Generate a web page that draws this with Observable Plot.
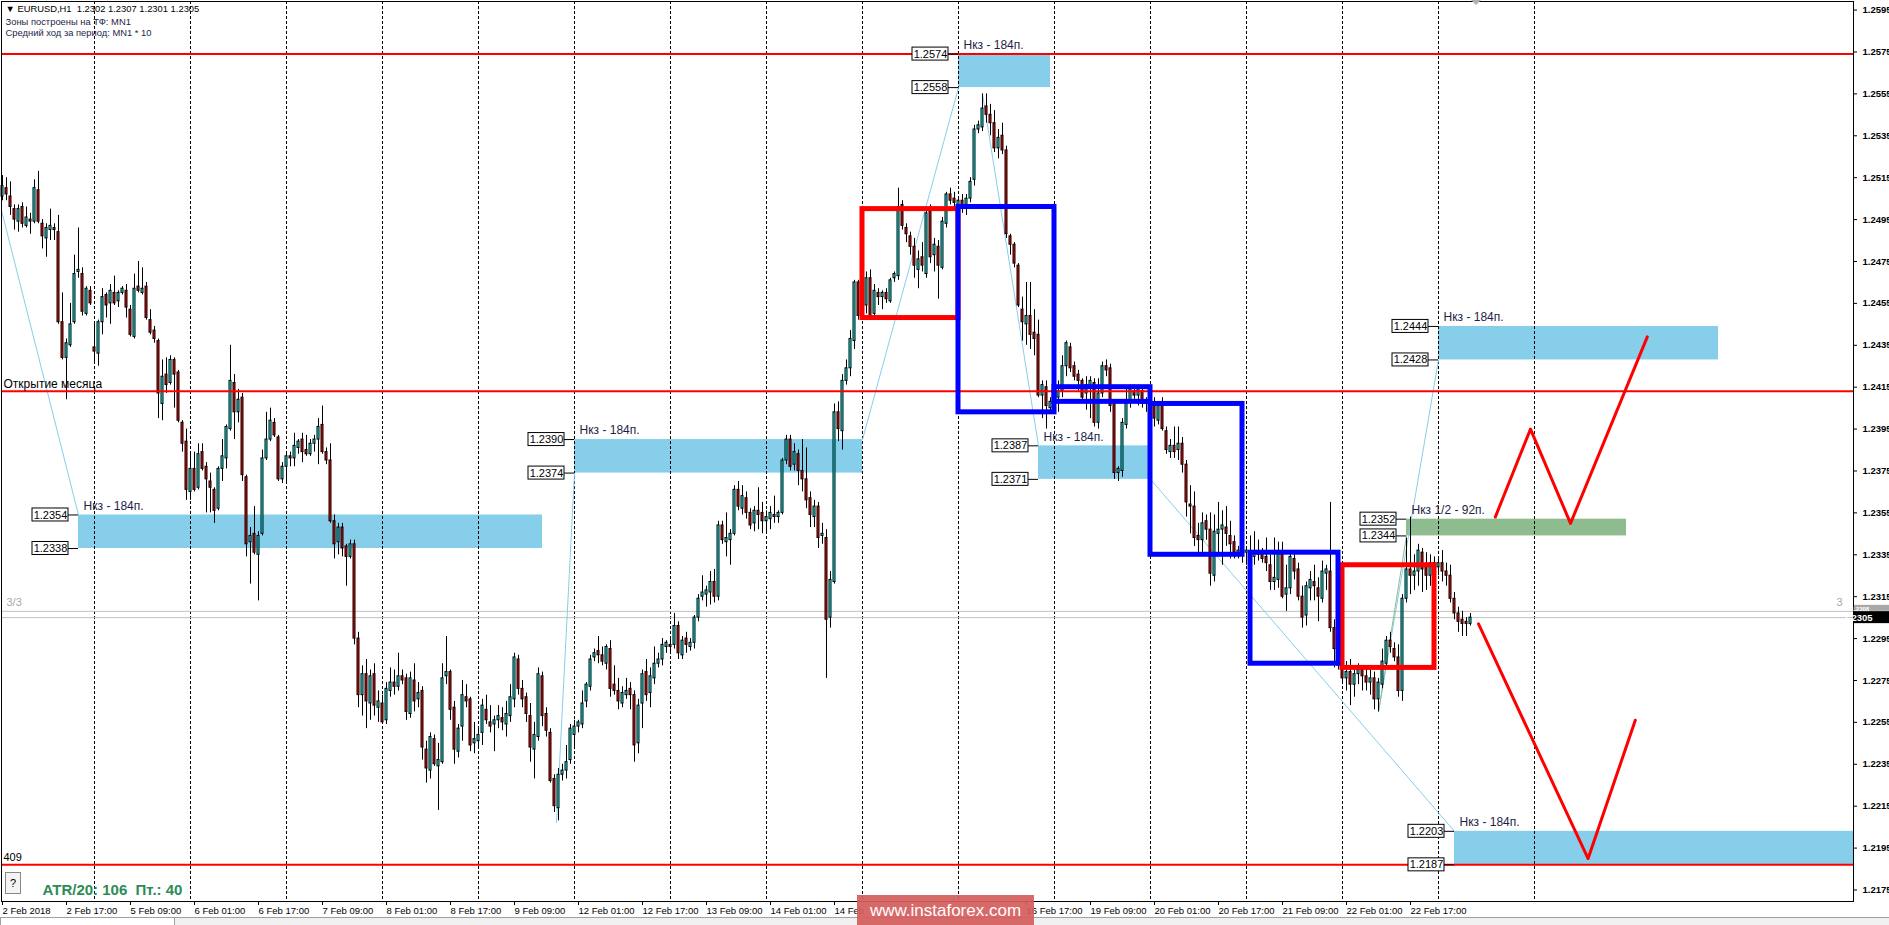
<!DOCTYPE html>
<html>
<head>
<meta charset="utf-8">
<script src="https://cdn.jsdelivr.net/npm/d3@7"></script>
<script src="https://cdn.jsdelivr.net/npm/@observablehq/plot@0.6"></script>
<style>
html, body { margin: 0; padding: 0; background: #fff; overflow: hidden; }
#chart svg { display: block; }
</style>
</head>
<body>
<div id="chart"></div>
<script>
// ---------- EURUSD H1 candles, values in points above 1.2000 (bar 0 = 2 Feb 01:00) ----------
const openPts = [
506,510,506,500,494,501,492,495,494,509,
493,486,490,491,489,446,429,435,446,470,
469,450,461,434,431,446,459,455,460,456,
460,461,452,439,463,460,463,447,442,437,
407,421,417,428,422,398,389,365,376,367,
384,377,370,366,357,376,381,395,417,403,
410,372,341,345,335,345,381,390,398,391,
371,377,382,381,386,390,385,383,388,390,
397,384,380,351,341,348,339,334,340,295,
268,278,264,278,262,264,256,270,274,272,
277,276,259,275,266,270,242,232,247,234,
236,277,279,262,241,253,267,266,245,246,
250,261,255,254,256,257,254,258,266,285,
271,267,258,242,248,277,259,250,228,214,
230,232,237,249,253,254,265,272,286,289,
287,283,290,273,270,264,268,271,268,245,
264,279,269,276,283,285,291,292,292,301,
287,295,291,293,305,315,316,317,322,315,
349,341,342,345,366,357,362,355,350,356,
355,351,352,354,353,355,380,390,378,383,
375,371,362,353,358,344,343,305,322,403,
394,418,424,437,465,449,454,467,450,460,
458,460,456,467,468,502,491,487,482,471,
477,469,499,478,482,472,493,507,505,502,
504,502,505,514,538,539,549,545,541,529,
535,528,487,483,473,452,445,449,441,440,
411,415,405,407,410,413,425,434,425,421,
418,412,415,417,398,412,425,424,407,374,
375,397,408,413,411,413,407,408,406,399,
406,394,384,387,385,388,378,359,358,344,
342,351,347,325,345,347,348,344,341,336,
336,336,336,334,336,336,334,330,322,323,
335,316,319,333,328,315,306,319,322,319,
314,326,327,300,290,281,276,279,273,278,
280,277,274,276,266,273,283,294,290,286,
270,314,328,325,327,336,329,325,331,329,
331,327,325,314,307,304,303,302];
const highPts = [
516,515,513,502,502,503,501,498,514,518,
495,493,500,493,497,460,438,455,478,491,
472,463,463,446,447,462,460,464,468,461,
463,464,454,469,475,472,465,452,444,438,
428,429,430,429,423,399,395,384,384,388,
388,379,374,367,377,390,397,435,421,414,
412,373,348,358,346,385,403,405,400,392,
379,383,384,393,390,393,392,390,392,400,
406,386,388,354,350,350,340,342,342,298,
282,285,280,283,270,268,274,281,280,288,
280,278,279,283,274,272,246,250,249,245,
283,296,280,265,254,275,273,267,255,253,
266,268,263,258,263,262,265,273,288,287,
275,269,264,255,281,279,262,252,230,233,
235,244,254,256,256,270,274,287,290,296,
291,292,294,282,276,272,276,274,270,266,
280,285,281,291,288,295,294,295,307,303,
296,298,295,306,316,325,320,327,328,351,
351,355,347,368,370,368,365,357,358,367,
360,356,358,363,356,381,392,392,388,385,
390,386,365,361,360,350,347,327,407,408,
421,428,442,466,466,460,470,471,464,462,
461,462,467,470,510,504,493,489,486,480,
484,500,502,486,485,496,508,510,508,505,
507,507,515,540,542,555,555,550,547,538,
541,530,488,484,474,458,465,465,452,447,
418,418,410,412,418,430,437,436,427,423,
419,420,420,419,419,427,428,426,408,377,
400,415,416,416,416,415,410,411,410,408,
410,396,390,396,396,391,380,368,365,350,
355,354,355,354,360,356,358,351,344,339,
340,338,344,346,342,338,343,335,343,341,
341,330,337,336,331,320,322,327,330,324,
332,330,360,304,292,283,284,285,280,283,
282,281,280,279,276,290,296,298,293,292,
316,343,353,335,340,338,336,335,334,333,
337,331,330,317,310,308,305,307];
const lowPts = [
504,504,497,490,489,491,491,488,493,493,
481,477,485,485,445,428,409,434,445,467,
449,449,454,427,425,440,448,445,454,453,
459,448,439,438,460,459,447,440,436,400,
399,412,416,405,398,384,361,361,365,366,
375,355,355,350,356,370,376,394,390,398,
370,334,321,335,313,344,380,389,391,370,
369,369,377,377,383,379,382,382,384,378,
383,378,350,333,335,334,320,333,292,262,
258,252,256,258,255,254,254,267,268,270,
273,256,257,260,262,237,226,228,234,213,
235,273,256,235,238,246,262,241,240,243,
244,254,250,241,252,251,248,255,262,268,
262,255,236,228,246,253,248,226,212,208,
227,228,235,242,250,252,262,270,284,283,
282,280,267,268,261,262,266,261,236,240,
252,265,262,273,281,282,288,288,290,285,
285,288,289,290,303,313,310,311,312,313,
340,334,330,344,356,354,352,347,346,347,
345,346,347,350,350,354,378,375,375,368,
365,357,348,348,338,340,276,300,321,389,
385,416,420,433,447,447,450,448,448,454,
452,455,455,465,466,490,484,478,467,462,
470,467,474,470,457,471,491,502,499,497,
498,497,503,511,536,537,541,535,527,524,
526,486,478,472,453,437,435,433,430,410,
400,395,403,404,403,410,420,422,418,413,
408,404,400,396,395,410,420,403,371,370,
372,395,405,408,406,405,403,400,396,397,
394,383,381,381,380,374,353,345,339,336,
336,342,320,322,335,330,339,333,333,333,
331,330,331,330,332,331,327,318,318,319,
314,308,316,323,313,300,301,313,313,303,
312,318,298,281,280,273,270,263,267,273,
270,270,268,261,260,271,281,288,284,267,
265,312,316,318,320,317,318,320,326,325,
322,320,312,304,298,296,296,301];
const closePts = [
511,507,501,495,500,493,496,494,510,494,
487,491,492,490,446,429,436,445,469,471,
451,462,455,432,446,458,454,461,455,460,
462,453,440,462,461,462,448,441,438,412,
420,416,428,421,399,388,366,376,366,383,
376,371,367,356,376,382,396,418,403,409,
373,340,344,336,344,381,390,399,392,371,
377,382,381,387,389,384,383,388,390,396,
384,380,351,340,348,338,334,340,295,268,
278,265,277,263,265,255,271,274,272,277,
275,260,276,265,269,243,233,248,235,237,
276,279,261,242,252,268,265,244,247,249,
263,256,253,256,258,255,259,267,286,271,
266,259,243,249,278,258,251,227,215,230,
232,236,252,253,255,264,273,285,288,287,
284,291,271,270,265,269,270,268,244,263,
278,268,277,283,285,292,293,291,301,288,
294,292,293,305,314,317,318,322,315,349,
342,343,345,366,358,363,355,349,356,354,
351,353,355,353,355,380,390,377,384,375,
371,361,354,358,343,345,304,323,403,395,
418,424,438,465,449,456,467,449,461,458,
460,457,466,469,501,492,488,482,473,476,
473,498,477,483,473,494,507,504,503,504,
502,505,513,538,540,548,545,541,529,534,
528,488,483,474,454,446,449,440,438,411,
416,406,408,410,413,425,436,424,420,418,
410,416,418,398,412,425,423,406,374,376,
398,407,414,411,414,407,408,406,400,406,
395,385,387,384,388,378,360,358,343,342,
350,347,326,346,347,349,345,340,336,337,
335,337,334,336,335,333,331,322,324,336,
315,319,334,327,315,305,320,323,320,315,
327,328,300,290,282,276,279,273,278,280,
277,274,276,266,274,284,294,291,286,270,
314,328,325,327,337,328,325,331,329,331,
327,325,314,307,303,302,302,305];

// ---------- axes ----------
const priceTicks = [1.2175,1.2195,1.2215,1.2235,1.2255,1.2275,1.2295,1.2315,1.2335,1.2355,1.2375,1.2395,1.2415,1.2435,1.2455,1.2475,1.2495,1.2515,1.2535,1.2555,1.2575,1.2595];
// labels under the watermark are only partly visible in the screenshot
const timeTickIndex = [0,16,32,48,64,80,96,112,128,144,160,176,192,208,256,272,288,304,320,336,352];
const timeTickText = ["2 Feb 2018","2 Feb 17:00","5 Feb 09:00","6 Feb 01:00","6 Feb 17:00","7 Feb 09:00","8 Feb 01:00","8 Feb 17:00","9 Feb 09:00","12 Feb 01:00","12 Feb 17:00","13 Feb 09:00","14 Feb 01:00","14 Feb","16 Feb 17:00","19 Feb 09:00","20 Feb 01:00","20 Feb 17:00","21 Feb 09:00","22 Feb 01:00","22 Feb 17:00"];
const daySeparators = [23,47,71,95,119,143,167,191,215,239,263,287,311,335,359,383];

// ---------- levels ----------
const redLevels = [1.2574, 1.2413, 1.2187];
const bidAskLevels = [1.2308, 1.2305];

// ---------- zones (bar index start/end, price top/bottom) ----------
const zoneStart  = [19, 143, 239, 259, 359, 363];
const zoneEnd    = [135, 215, 262, 287, 429, 462.75];
const zoneTop    = [1.2354, 1.2390, 1.2574, 1.2387, 1.2444, 1.2203];
const zoneBottom = [1.2338, 1.2374, 1.2558, 1.2371, 1.2428, 1.2187];
const zoneLabel  = ["Нкз - 184п.","Нкз - 184п.","Нкз - 184п.","Нкз - 184п.","Нкз - 184п.","Нкз - 184п."];
const halfZoneStart = [351], halfZoneEnd = [406], halfZoneTop = [1.2352], halfZoneBottom = [1.2344];
const halfZoneLabel = ["Нкз 1/2 - 92п."];

// ---------- boxes ----------
const boxStart  = [215, 239, 263, 287, 312, 335];
const boxEnd    = [239, 263, 287, 310, 334, 358];
const boxTop    = [1.2500, 1.2501, 1.2415, 1.2407, 1.2336, 1.2330];
const boxBottom = [1.2448, 1.2403, 1.2408, 1.2335, 1.2283, 1.2281];
const boxKind   = ["red","blue","blue","blue","blue","red"];

// ---------- thin guide lines ----------
const guideX1 = [-0.2, 138.5, 215, 245, 287, 344];
const guideY1 = [1.2499, 1.2207, 1.2390, 1.2555, 1.2371, 1.2260];
const guideX2 = [19, 143, 239, 259, 363, 359];
const guideY2 = [1.2354, 1.2374, 1.2558, 1.2387, 1.2203, 1.2428];
const greenGuide = [[344, 1.2260], [351, 1.2344]];

// ---------- projection (red zig-zag) ----------
const projUpIdx = [373.2, 382, 392, 411.2];
const projUpPrice = [1.2353, 1.2395, 1.2350, 1.2439];
const projDownIdx = [369, 396.4, 408.2];
const projDownPrice = [1.2302, 1.2190, 1.2256];

// ============ build ============
const FONT = "'Liberation Sans', Arial, Helvetica, sans-serif";
const toPrice = v => 1.2 + v / 10000;
const bars = closePts.map((c, i) => ({i, o: toPrice(openPts[i]), h: toPrice(highPts[i]), l: toPrice(lowPts[i]), c: toPrice(c)}));
const bullBars = bars.filter(d => d.c >= d.o);
const bearBars = bars.filter(d => d.c < d.o);

const zones = zoneStart.map((s, k) => ({s, e: zoneEnd[k], top: zoneTop[k], bot: zoneBottom[k], label: zoneLabel[k]}));
const halfZones = halfZoneStart.map((s, k) => ({s, e: halfZoneEnd[k], top: halfZoneTop[k], bot: halfZoneBottom[k], label: halfZoneLabel[k]}));
const allZones = zones.concat(halfZones);
const priceTags = allZones.flatMap(z => [{x: z.s, y: z.top}, {x: z.s, y: z.bot}]);
const boxes = boxStart.map((s, k) => ({s, e: boxEnd[k], top: boxTop[k], bot: boxBottom[k], kind: boxKind[k]}));
const guides = guideX1.map((x1, k) => ({x1, y1: guideY1[k], x2: guideX2[k], y2: guideY2[k]}));
const projUp = projUpIdx.map((x, k) => ({x, y: projUpPrice[k]}));
const projDown = projDownIdx.map((x, k) => ({x, y: projDownPrice[k]}));
const timeTicks = timeTickIndex.map((x, k) => ({x, t: timeTickText[k]}));

const X0 = -0.25, X1 = 462.75, Y0 = 1.21695, Y1 = 1.25991;
const NAVY = "#1e1e46";

const svg = Plot.plot({
  width: 1889, height: 925,
  marginTop: 1, marginLeft: 1, marginRight: 36, marginBottom: 24,
  x: {domain: [X0, X1], axis: null},
  y: {domain: [Y0, Y1], axis: null},
  style: {fontFamily: FONT, background: "#fff", overflow: "visible"},
  marks: [
    Plot.rect(zones, {x1: "s", x2: "e", y1: "bot", y2: "top", fill: "#87ceeb"}),
    Plot.rect(halfZones, {x1: "s", x2: "e", y1: "bot", y2: "top", fill: "#8fbc8f"}),
    Plot.ruleX(daySeparators, {x: d => d, stroke: "#000", strokeDasharray: "3,2", strokeWidth: 1}),
    Plot.ruleY(bidAskLevels, {y: d => d, stroke: "#c0c0c0", strokeWidth: 1}),
    Plot.link(guides, {x1: "x1", y1: "y1", x2: "x2", y2: "y2", stroke: "#87ceeb", strokeWidth: 1}),
    Plot.line(greenGuide, {x: d => d[0], y: d => d[1], stroke: "#8fbc8f", strokeWidth: 1}),
    Plot.ruleX(bars, {x: "i", y1: "l", y2: "h", stroke: "#000", strokeWidth: 1}),
    Plot.rect(bullBars, {x1: d => d.i - 0.25, x2: d => d.i + 0.25, y1: "o", y2: "c", fill: "#00ffff", stroke: "#000", strokeWidth: 1}),
    Plot.rect(bearBars, {x1: d => d.i - 0.25, x2: d => d.i + 0.25, y1: "o", y2: "c", fill: "#ff0000", stroke: "#000", strokeWidth: 1}),
    Plot.ruleY(redLevels, {y: d => d, stroke: "#ff0000", strokeWidth: 2}),
    Plot.text(["Открытие месяца"], {x: X0, y: redLevels[1], text: d => d, dx: 2, dy: -7, textAnchor: "start", lineAnchor: "middle", fontSize: 12, fill: "#000"}),
    Plot.rect(boxes.filter(b => b.kind === "red"), {x1: "s", x2: "e", y1: "bot", y2: "top", fill: "none", stroke: "#ff0000", strokeWidth: 5}),
    Plot.rect(boxes.filter(b => b.kind === "blue"), {x1: "s", x2: "e", y1: "bot", y2: "top", fill: "none", stroke: "#0000ff", strokeWidth: 5}),
    Plot.line(projUp, {x: "x", y: "y", stroke: "#ff0000", strokeWidth: 3}),
    Plot.line(projDown, {x: "x", y: "y", stroke: "#ff0000", strokeWidth: 3}),
    Plot.ruleY(priceTags, {y: "y", x1: "x", x2: "x", insetLeft: -10, insetRight: 0, stroke: "#000"}),
    Plot.rect(priceTags, {x1: "x", x2: "x", y1: "y", y2: "y", insetLeft: -46, insetRight: 10, insetTop: -6.5, insetBottom: -6.5, fill: "#fff", stroke: "#000", strokeWidth: 1}),
    Plot.text(priceTags, {x: "x", y: "y", text: d => d.y.toFixed(4), dx: -28, textAnchor: "middle", lineAnchor: "middle", fontSize: 11, fill: "#000"}),
    Plot.text(allZones, {x: "s", y: "top", text: "label", dx: 5, dy: -9, textAnchor: "start", lineAnchor: "middle", fontSize: 12, fill: NAVY}),
    Plot.frame({stroke: "#000"}),
    Plot.ruleY(priceTicks, {y: d => d, x1: X1, x2: X1, insetRight: -4, stroke: "#000"}),
    Plot.text(priceTicks, {x: X1, y: d => d, text: d => d.toFixed(4), dx: 9, textAnchor: "start", lineAnchor: "middle", fontSize: 9.5, fontWeight: "bold", fill: "#000"}),
    Plot.ruleX(timeTicks, {x: "x", y1: Y0, y2: Y0, insetBottom: -4, stroke: "#000"}),
    Plot.text(timeTicks, {x: "x", y: Y0, text: "t", dx: 0, dy: 9, textAnchor: "start", lineAnchor: "middle", fontSize: 9.5, fill: "#000"}),
    Plot.text(["▼ EURUSD,H1  1.2302 1.2307 1.2301 1.2305"], {frameAnchor: "top-left", text: d => d, dx: 4, dy: 7, textAnchor: "start", lineAnchor: "middle", fontSize: 9.4, fill: "#000"}),
    Plot.text(["Зоны построены на ТФ: MN1"], {frameAnchor: "top-left", text: d => d, dx: 4, dy: 20, textAnchor: "start", lineAnchor: "middle", fontSize: 9.4, fill: NAVY}),
    Plot.text(["Средний ход за период: MN1 * 10"], {frameAnchor: "top-left", text: d => d, dx: 4, dy: 31, textAnchor: "start", lineAnchor: "middle", fontSize: 9.4, fill: NAVY}),
    Plot.text(["3/3"], {frameAnchor: "top-left", text: d => d, dx: 5, dy: 601, textAnchor: "start", lineAnchor: "middle", fontSize: 11, fill: "#a8a8a8"}),
    Plot.text(["3"], {frameAnchor: "top-right", text: d => d, dx: -11, dy: 601, textAnchor: "end", lineAnchor: "middle", fontSize: 11, fill: "#a8a8a8"}),
    Plot.text(["409"], {frameAnchor: "top-left", text: d => d, dx: 2, dy: 856, textAnchor: "start", lineAnchor: "middle", fontSize: 11, fill: "#000"}),
    Plot.text(["ATR/20: 106  Пт.: 40"], {frameAnchor: "top-left", text: d => d, dx: 41, dy: 889, textAnchor: "start", lineAnchor: "middle", fontSize: 15, fontWeight: "bold", fill: "#2e8b57"})
  ]
});

const root = d3.select(svg);
const ys = v => 901 - (v - Y0) / (Y1 - Y0) * 900;
// ask tag (mostly hidden behind the bid tag)
root.append("rect").attr("x", 1854).attr("y", ys(1.2308) - 6).attr("width", 35).attr("height", 6).attr("fill", "#a8a8a8");
root.append("text").attr("x", 1860).attr("y", ys(1.2308) + 0.5).attr("font-size", 6).attr("font-weight", "bold").attr("fill", "#fff").attr("font-family", FONT).text("1.2308");
// bid tag
root.append("rect").attr("x", 1854).attr("y", ys(1.2305) - 6).attr("width", 35).attr("height", 12).attr("fill", "#000");
root.append("text").attr("x", 1858).attr("y", ys(1.2305) + 3.5).attr("font-size", 9.5).attr("font-weight", "bold").attr("fill", "#fff").attr("font-family", FONT).text("1.2305");
// help button
root.append("rect").attr("x", 5.5).attr("y", 872.5).attr("width", 15).attr("height", 21).attr("fill", "#f4f4f4").attr("stroke", "#888");
root.append("text").attr("x", 13).attr("y", 887).attr("text-anchor", "middle").attr("font-size", 11).attr("font-family", FONT).text("?");
// chart-shift marker
root.append("path").attr("d", "M1471,0 L1481,0 L1476,5 Z").attr("fill", "#b0b0b0");
// bottom tab strip
root.append("rect").attr("x", 0).attr("y", 917).attr("width", 1889).attr("height", 8).attr("fill", "#f0f0f0");
root.append("line").attr("x1", 0).attr("x2", 1889).attr("y1", 917.5).attr("y2", 917.5).attr("stroke", "#a0a0a0");
root.append("rect").attr("x", 0.5).attr("y", 917.5).attr("width", 174).attr("height", 8).attr("fill", "#fff").attr("stroke", "#a0a0a0");
// watermark
root.append("rect").attr("x", 857).attr("y", 895).attr("width", 177).attr("height", 30).attr("fill", "#d55c5c").attr("opacity", 0.92);
root.append("text").attr("x", 945.5).attr("y", 916).attr("text-anchor", "middle").attr("font-size", 17).attr("fill", "#fff").attr("font-family", FONT).text("www.instaforex.com");

document.getElementById("chart").appendChild(svg);
</script>
</body>
</html>
